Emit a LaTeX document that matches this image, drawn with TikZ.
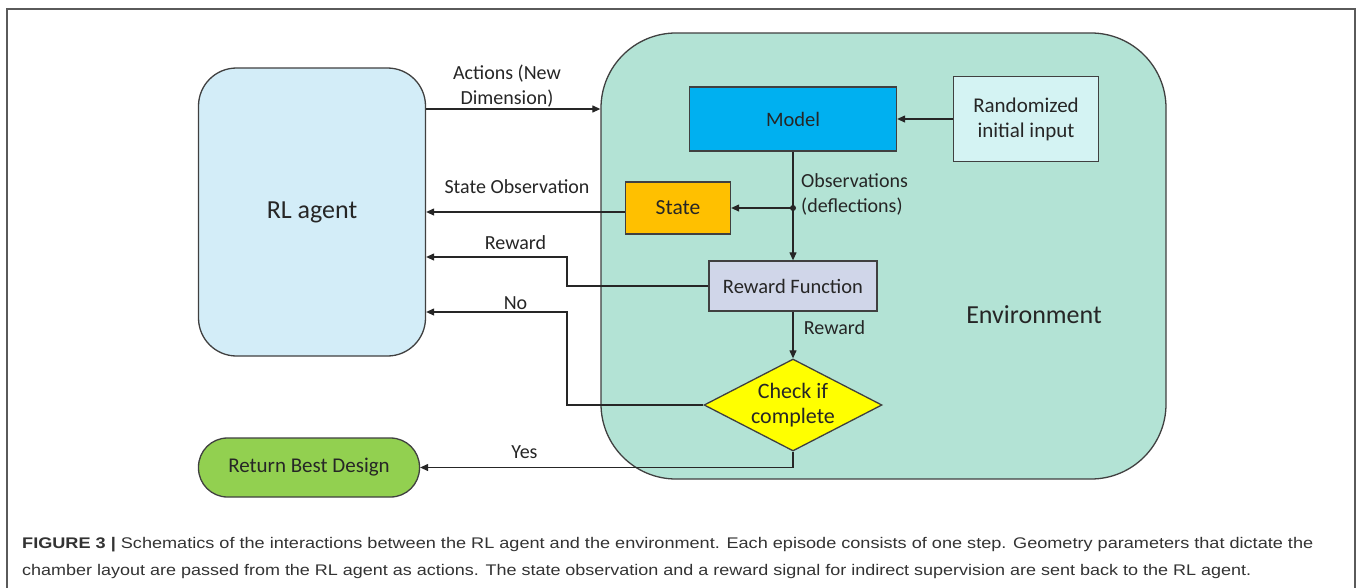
\documentclass[tikz,border=0pt]{standalone}
\usepackage{fontspec}
\setmainfont{Carlito}
\newfontfamily\capfont{Liberation Sans}
\usetikzlibrary{shapes.geometric,arrows.meta}
\definecolor{framecol}{HTML}{5A5A5A}
\definecolor{bordercol}{HTML}{404040}
\definecolor{linecol}{HTML}{262626}
\definecolor{textcol}{HTML}{262626}
\definecolor{captext}{HTML}{333333}
\definecolor{agentfill}{HTML}{D3EDF8}
\definecolor{envfill}{HTML}{B3E3D5}
\definecolor{modelfill}{HTML}{00B0F0}
\definecolor{randfill}{HTML}{D4F3F3}
\definecolor{statefill}{HTML}{FFC000}
\definecolor{rffill}{HTML}{D0D6E9}
\definecolor{checkfill}{HTML}{FFFF00}
\definecolor{retfill}{HTML}{92D050}
\tikzset{
  shapebox/.style={draw=bordercol, line width=1.3pt, inner sep=0pt, align=center,
    text=textcol, font=\fontsize{20.5}{25}\selectfont},
  conn/.style={draw=linecol, line width=1.2pt, -{Triangle[length=8pt,width=7pt]}},
  lbl/.style={font=\fontsize{20}{25}\selectfont, text=textcol, inner sep=0pt, align=center},
  biglbl/.style={font=\fontsize{26}{30}\selectfont, text=textcol, inner sep=0pt},
  caption/.style={font=\capfont\fontsize{15.4}{18}\selectfont, text=captext, inner sep=0pt, anchor=base west}
}
\begin{document}
\begin{tikzpicture}[x=1pt,y=-1pt]
\useasboundingbox (0,0) rectangle (1358,587);
\fill[white] (0,0) rectangle (1358,587);
\draw[framecol, line width=1.5pt] (7,590) -- (7,9) -- (1355,9) -- (1355,590);

% main boxes
\node[shapebox, fill=envfill, rounded corners=75pt, minimum width=565pt, minimum height=446pt] (env) at (883.5,256) {};
\node[shapebox, fill=agentfill, rounded corners=38pt, minimum width=227pt, minimum height=288pt,
  font=\fontsize{26}{30}\selectfont] (agent) at (312,212) {RL agent};
\node[biglbl] (envlbl) at (1034,315) {Environment};

\node[shapebox, fill=modelfill, minimum width=207pt, minimum height=64pt] (model) at (793,119) {Model};
\node[shapebox, fill=randfill, minimum width=145pt, minimum height=85pt,
  font=\fontsize{21}{25}\selectfont] (rand) at (1026,119) {Randomized\\initial input};
\node[shapebox, fill=statefill, minimum width=105pt, minimum height=52pt,
  font=\fontsize{21.5}{25}\selectfont] (state) at (678,208) {State};
\node[shapebox, fill=rffill, minimum width=168pt, minimum height=50pt] (rf) at (793,286) {Reward Function};
\node[shapebox, fill=checkfill, shape=diamond, minimum width=178pt, minimum height=92pt, aspect=1.93,
  font=\fontsize{22}{25}\selectfont] (check) at (793,405) {Check if\\complete};
\node[shapebox, fill=retfill, rounded corners=29pt, minimum width=221pt, minimum height=59pt,
  font=\fontsize{21}{25}\selectfont] (ret) at (309,467.5) {Return Best Design};

% coordinates
\coordinate (actY) at (500,109);
\coordinate (j) at (793,208);
\coordinate (sw) at ([yshift=-4pt]state.west);
\coordinate (rx) at (567,257);
\coordinate (nx) at (567,312);

% connectors
\draw[conn] (agent.east |- actY) -- (env.west |- actY);
\draw[conn] (rand.west) -- (model.east);
\draw[conn] (model.south) -- (rf.north);
\fill[linecol] (j) circle (3pt);
\draw[conn] (j) -- (state.east);
\draw[conn] (sw) -- (agent.east |- sw);
\draw[conn] (rf.west) -| (rx) -- (agent.east |- rx);
\draw[conn] (rf.south) -- (check.north);
\draw[conn] (check.west) -| (nx) -- (agent.east |- nx);
\draw[conn] (check.south) |- (ret.east);

% labels
\node[lbl] (actlbl) at (507,86) {Actions (New\\Dimension)};
\node[lbl] (solbl) at (517,187) {State Observation};
\node[lbl, align=left, anchor=west] (obslbl) at (801,194) {Observations\\(deflections)};
\node[lbl] (rwlbl) at (515.5,243) {Reward};
\node[lbl] (rw2lbl) at (834.5,328) {Reward};
\node[lbl] (nolbl) at (515.5,303) {No};
\node[lbl] (yeslbl) at (524.5,452) {Yes};

% caption
\node[caption] (cap1) at (22,548.3) {\resizebox{1291pt}{\height}{\textbf{FIGURE 3 |} Schematics of the interactions between the RL agent and the environment. Each episode consists of one step. Geometry parameters that dictate the}};
\node[caption] (cap2) at (22,575) {\resizebox{1229pt}{\height}{chamber layout are passed from the RL agent as actions. The state observation and a reward signal for indirect supervision are sent back to the RL agent.}};
\end{tikzpicture}
\end{document}
